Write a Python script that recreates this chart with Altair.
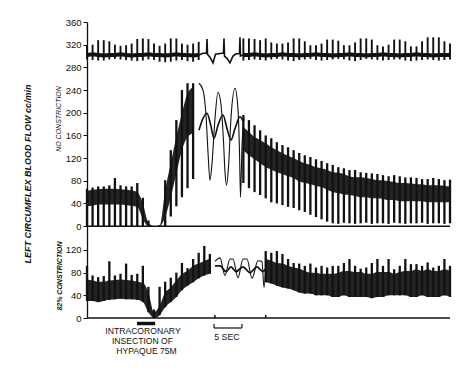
import altair as alt
import pandas as pd

# ---------------- data read from the recording ----------------
TIME = list(range(66))  # seconds from start of trace

# Top trace (~300 cc/min level, pulsatile spikes)
ECG_HI = [318, 320, 328, 328, 326, 320, 318, 319, 322, 330, 331, 330, 322, 318, 322, 331, 331, 322, 320, 322, 325,
          None, None, None, None, None, None, None,
          331, 331, 330, 328, 331, 324, 322, 322, 324, 331, 331, 326, 319, 319, 322, 329, 329, 327, 319, 319,
          324, 331, 331, 329, 319, 317, 320, 329, 329, 326, 317, 317, 326, 333, 333, 333, 326, 322]
ECG_LO = [294, 293, 292, 292, 294, 295, 294, 293, 292, 291, 292, 294, 293, 290, 289, 290, 292, 293, 291, 290, 293,
          None, None, None, None, None, None, None,
          292, 293, 294, 293, 292, 294, 295, 294, 292, 291, 293, 294, 295, 293, 292, 293, 294, 295, 294, 292,
          291, 293, 295, 294, 293, 292, 293, 294, 294, 292, 291, 292, 293, 294, 293, 292, 293, 294]
ECG_MID = [302, 303, 302, 301, 302, 302, 303, 302, 301, 302, 302, 303, 302, 302, 301, 302, 303, 302, 302, 301, 302,
           None, None, None, None, None, None, None,
           302, 302, 303, 302, 301, 302, 302, 303, 302, 302, 301, 302, 302, 303, 302, 302, 301, 302, 302, 303,
           302, 302, 301, 302, 302, 303, 302, 302, 301, 302, 302, 303, 302, 302, 301, 302, 302, 302]
ECG_EVT_T = [20.05, 20.77, 21.40, 21.49, 21.58, 22.02, 22.56, 23.01, 24.17, 24.44, 24.53, 24.62, 25.07, 25.60,
             26.14, 26.68, 27.31, 27.39, 27.48, 27.93]
ECG_EVT_V = [302, 305, 305, 330, 303, 298, 288, 303, 305, 305, 331, 300, 296, 288, 300, 304, 304, 333, 300, 302]

# No constriction: flow envelopes
F_HI = [66, 68, 70, 70, 72, 85, 72, 70, 70, 76,
        50, 10, 0, 2, 81, 134, 187, 240, 252, 252,
        None, None, None, None, None, None, None, None,
        196, 187, 178, 169, 160, 155, 148, 143, 139, 134, 129, 125, 122, 118, 115, 111,
        108, 104, 102, 99, 99, 95, 94, 93, 92, 90, 88, 90, 88, 86, 86, 85, 83, 83, 85, 83, 81, 82]
F_TOP = [62, 64, 65, 66, 66, 66, 65, 64, 63, 60,
         40, 6, 0, 0, 63, 111, 157, 199, 234, 245,
         None, None, None, None, None, None, None, None,
         175, 166, 157, 152, 146, 139, 134, 129, 124, 120, 115, 111, 108, 104, 102, 99,
         95, 94, 92, 88, 86, 86, 85, 83, 81, 81, 79, 78, 76, 76, 75, 74, 74, 72, 72, 72, 71, 70]
F_BOT = [35, 36, 38, 38, 38, 38, 38, 37, 36, 34,
         12, 0, 0, 0, 16, 51, 93, 134, 157, 164,
         None, None, None, None, None, None, None, None,
         134, 125, 118, 111, 104, 100, 95, 92, 88, 85, 79, 76, 74, 71, 69, 64,
         60, 58, 56, 55, 53, 51, 51, 49, 49, 48, 46, 46, 44, 44, 44, 44, 44, 42, 42, 42, 42, 42]
F_LO = [0, 0, 0, 0, 0, 0, 0, 0, 0, 0,
        0, 0, 0, 0, 0, 17, 35, 51, 67, 83,
        None, None, None, None, None, None, None, None,
        76, 67, 60, 55, 49, 42, 40, 37, 34, 32, 28, 25, 20, 16, 12, 8,
        5, 4, 6, 5, 4, 5, 6, 4, 5, 5, 4, 6, 5, 4, 5, 5, 6, 4, 5, 5, 4, 5]
# phasic and mean flow during the injection
FP_T = [20.05, 20.77, 21.31, 21.67, 22.02, 22.38, 22.92, 23.46, 23.99, 24.44, 24.71, 24.98, 25.34, 25.78,
        26.50, 27.04, 27.31, 27.49, 27.75, 28.1]
FP_V = [252, 240, 195, 130, 81, 110, 190, 236, 215, 150, 95, 72, 105, 190, 243, 205, 130, 51, 140, 190]
FM_T = [20.05, 20.77, 21.49, 22.11, 22.74, 23.46, 24.35, 25.07, 25.78, 26.50, 27.39, 27.93]
FM_V = [169, 190, 199, 180, 155, 178, 196, 172, 152, 172, 193, 185]

# 82% constriction: flow envelopes
C_HI = [92, 75, 72, 74, 100, 75, 78, 96, 76, 78, 92,
        55, 15, 55, 64, 71, 80, 97, 88, 104, 115, 127, 113,
        None, None, None, None, None, None, None, None, None,
        118, 115, 118, 113, 104, 97, 96, 92, 96, 89, 92, 89, 92,
        92, 97, 104, 92, 87, 89, 97, 104, 92, 104, 86, 92, 104, 95, 95, 92, 98, 89, 92, 104, 92]
C_TOP = [68, 66, 64, 64, 66, 67, 68, 67, 66, 64, 62,
         45, 10, 22, 45, 54, 66, 78, 83, 92, 96, 101, 104,
         None, None, None, None, None, None, None, None, None,
         104, 101, 97, 96, 92, 89, 87, 83, 80, 80, 78, 78, 78,
         80, 83, 83, 81, 81, 78, 78, 81, 81, 81, 78, 81, 83, 83, 86, 83, 86, 83, 83, 86, 83]
C_BOT = [30, 30, 28, 30, 32, 33, 34, 33, 33, 32, 28,
         10, 0, 5, 19, 28, 37, 49, 57, 63, 70, 75, 78,
         None, None, None, None, None, None, None, None, None,
         63, 61, 57, 54, 52, 49, 45, 43, 43, 40, 40, 40, 37,
         37, 40, 37, 37, 37, 37, 35, 37, 37, 40, 40, 40, 40, 37, 37, 40, 37, 37, 37, 40, 37]
CP_T = [22.92, 23.81, 24.71, 25.60, 26.14, 27.04, 27.93, 28.65, 29.54, 30.62, 31.33, 31.69, 32.05]
CP_V = [100, 106, 75, 104, 104, 71, 104, 104, 70, 101, 100, 54, 95]
CM_T = [22.92, 23.81, 24.89, 25.78, 26.68, 27.93, 29.18, 30.44, 31.51, 32.05]
CM_V = [92, 92, 82, 90, 82, 90, 80, 90, 82, 88]

Y_TICKS_TOP = [360, 320, 280, 240, 200, 160, 120, 80, 40, 0]
Y_TICKS_BOTTOM = [120, 80, 40, 0]
PANEL_OFFSET = 162  # the lower panel's zero lies this many units below the upper one

INJECTION = [8.95, 12.2]     # seconds, black bar
FIVE_SEC = [22.74, 27.74]     # time calibration bracket
EVENT_MARKS = [22.9, 32.0]

TITLE = "LEFT CIRCUMFLEX BLOOD FLOW cc/min"
SUB_TOP = "NO CONSTRICTION"
SUB_BOTTOM = "82% CONSTRICTION"
NOTE_LINES = ["INTRACORONARY", "INSECTION OF", "HYPAQUE 75M"]
SEC_LABEL = "5 SEC"

# ---------------- chart ----------------
INK = "#111111"
XS = alt.Scale(domain=[0, 65], nice=False, zero=False)
YS = alt.Scale(domain=[-PANEL_OFFSET, 360], nice=False, zero=False)
YAX = alt.Axis(
    values=Y_TICKS_TOP + [v - PANEL_OFFSET for v in Y_TICKS_BOTTOM],
    labelExpr=f"datum.value >= 0 ? datum.value : datum.value + {PANEL_OFFSET}",
    title="", grid=False, domainColor=INK, domainWidth=1.3, tickColor=INK,
    tickSize=4, tickWidth=1, labelFont="Liberation Sans", labelFontSize=9.5,
    labelColor=INK, labelPadding=2, labelOverlap=False,
)


def X(f):
    return alt.X(f, scale=XS, axis=None)


def Y(f):
    return alt.Y(f, scale=YS, axis=YAX)


flow = pd.DataFrame({"t": TIME, "hi": F_HI, "top": F_TOP, "bot": F_BOT, "lo": F_LO})
cons = pd.DataFrame({"t": TIME, "hi": C_HI, "top": C_TOP, "bot": C_BOT})
ecg = pd.DataFrame({"t": TIME, "hi": ECG_HI, "lo": ECG_LO, "mid": ECG_MID})
ecg_evt = pd.DataFrame({"t": ECG_EVT_T, "v": ECG_EVT_V})
fp = pd.DataFrame({"t": FP_T, "v": FP_V})
fm = pd.DataFrame({"t": FM_T, "v": FM_V})
cp = pd.DataFrame({"t": CP_T, "v": CP_V})
cm = pd.DataFrame({"t": CM_T, "v": CM_V})

seg = "datum.t < 24 ? 'a' : 'b'"
RULE_W = 2.3

# upper panel
ecg_rules = alt.Chart(ecg).transform_filter("isValid(datum.hi)").mark_rule(
    color=INK, strokeWidth=1.9).encode(x=X("t:Q"), y=Y("lo:Q"), y2="hi:Q")
ecg_line = alt.Chart(ecg).transform_filter("isValid(datum.mid)").transform_calculate(seg=seg).mark_line(
    color=INK, strokeWidth=4).encode(x=X("t:Q"), y=Y("mid:Q"), detail="seg:N")
ecg_evt_line = alt.Chart(ecg_evt).mark_line(color=INK, strokeWidth=1.6).encode(x=X("t:Q"), y=Y("v:Q"))

flow_rules = alt.Chart(flow).transform_filter("isValid(datum.hi)").mark_rule(
    color=INK, strokeWidth=RULE_W).encode(x=X("t:Q"), y=Y("lo:Q"), y2="hi:Q")
flow_band = alt.Chart(flow).transform_filter("isValid(datum.top)").transform_calculate(seg=seg).mark_area(
    color=INK, opacity=0.92, interpolate="monotone").encode(x=X("t:Q"), y=Y("bot:Q"), y2="top:Q", detail="seg:N")
flow_phasic = alt.Chart(fp).mark_line(color=INK, strokeWidth=1.1, interpolate="monotone").encode(
    x=X("t:Q"), y=Y("v:Q"))
flow_mean = alt.Chart(fm).mark_line(color=INK, strokeWidth=1.6, interpolate="monotone").encode(
    x=X("t:Q"), y=Y("v:Q"))

# lower panel (shifted down by PANEL_OFFSET)
shift = {"hi2": f"datum.hi - {PANEL_OFFSET}", "top2": f"datum.top - {PANEL_OFFSET}",
         "bot2": f"datum.bot - {PANEL_OFFSET}"}
cons_rules = alt.Chart(cons).transform_filter("isValid(datum.hi)").transform_calculate(**shift).mark_rule(
    color=INK, strokeWidth=RULE_W).encode(x=X("t:Q"), y=Y("bot2:Q"), y2="hi2:Q")
cons_band = alt.Chart(cons).transform_filter("isValid(datum.top)").transform_calculate(seg=seg, **shift).mark_area(
    color=INK, opacity=0.92, interpolate="monotone").encode(x=X("t:Q"), y=Y("bot2:Q"), y2="top2:Q", detail="seg:N")
cons_phasic = alt.Chart(cp).transform_calculate(v2=f"datum.v - {PANEL_OFFSET}").mark_line(
    color=INK, strokeWidth=1.1, interpolate="monotone").encode(x=X("t:Q"), y=Y("v2:Q"))
cons_mean = alt.Chart(cm).transform_calculate(v2=f"datum.v - {PANEL_OFFSET}").mark_line(
    color=INK, strokeWidth=1.8, interpolate="monotone").encode(x=X("t:Q"), y=Y("v2:Q"))

# base lines
bases = alt.Chart(pd.DataFrame({"y": [0, -PANEL_OFFSET]})).mark_rule(color=INK, strokeWidth=1.5).encode(
    x=alt.value(0), x2=alt.value(363), y=Y("y:Q"))
events = alt.Chart(pd.DataFrame({"t": EVENT_MARKS})).mark_rule(color=INK, strokeWidth=1.5).encode(
    x=X("t:Q"), y=alt.value(296), y2=alt.value(293))

# annotations
inj = alt.Chart(pd.DataFrame({"a": [INJECTION[0]], "b": [INJECTION[1]]})).mark_rule(
    color=INK, strokeWidth=3.5).encode(x=X("a:Q"), x2="b:Q", y=alt.value(301.5))
br = pd.DataFrame({"a": [FIVE_SEC[0]], "b": [FIVE_SEC[1]]})
bracket = alt.Chart(br).mark_rule(color=INK, strokeWidth=1.2).encode(x=X("a:Q"), x2="b:Q", y=alt.value(306))
bracket_l = alt.Chart(br).mark_rule(color=INK, strokeWidth=1.2).encode(x=X("a:Q"), y=alt.value(302), y2=alt.value(306))
bracket_r = alt.Chart(br).mark_rule(color=INK, strokeWidth=1.2).encode(x=X("b:Q"), y=alt.value(302), y2=alt.value(306))


def label(txt, px, py, size, angle=0, style="normal", weight="normal", font="Liberation Sans"):
    return alt.Chart(pd.DataFrame({"label": [txt]})).mark_text(
        font=font, fontSize=size, angle=angle, fontStyle=style, fontWeight=weight,
        color=INK, align="center", baseline="middle").encode(
        x=alt.value(px), y=alt.value(py), text="label:N")


texts = [
    label(TITLE, -59, 152, 9, angle=270, style="italic", weight="bold"),
    label(SUB_TOP, -28, 97, 7, angle=270, style="italic"),
    label(SUB_BOTTOM, -27, 254, 7, angle=270, style="italic", weight="bold"),
    label(NOTE_LINES[0], 56, 308.5, 8.6),
    label(NOTE_LINES[1], 55.5, 319, 8.6),
    label(NOTE_LINES[2], 59.5, 329, 8.6),
    label(SEC_LABEL, 140, 315, 8.8),
]

chart = alt.layer(
    flow_rules, flow_band, flow_phasic, flow_mean,
    ecg_rules, ecg_line, ecg_evt_line,
    cons_rules, cons_band, cons_phasic, cons_mean,
    bases, events, inj, bracket, bracket_l, bracket_r, *texts,
).properties(
    width=363, height=296,
    autosize=alt.AutoSizeParams(type="none"),
    padding={"left": 79, "top": 14, "right": 7, "bottom": 56},
    background="white",
).configure_view(stroke=None)

chart.save("out.html", embed_options={"renderer": "svg", "actions": False})
